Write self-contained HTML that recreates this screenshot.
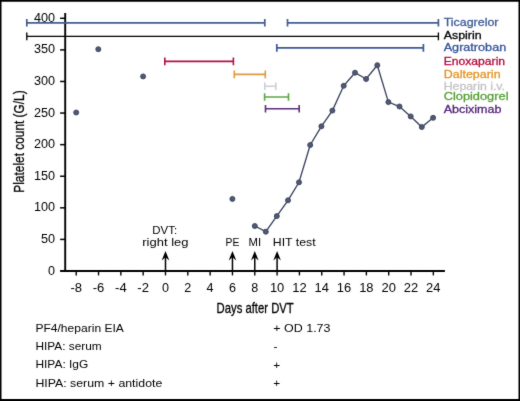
<!DOCTYPE html>
<html><head><meta charset="utf-8"><title>Platelet count</title>
<style>
html,body{margin:0;padding:0;background:#fff;}
body{width:520px;height:401px;overflow:hidden;font-family:"Liberation Sans",sans-serif;}
svg{display:block;font-family:"Liberation Sans",sans-serif;will-change:transform;}
</style></head><body>
<svg width="520" height="401" viewBox="0 0 520 401">
<rect x="0" y="0" width="520" height="401" fill="#fff"/>
<defs><filter id="soft" x="0" y="0" width="100%" height="100%" filterUnits="userSpaceOnUse" primitiveUnits="userSpaceOnUse" color-interpolation-filters="sRGB"><feConvolveMatrix order="3" kernelMatrix="0.015 0.07 0.015 0.07 0.66 0.07 0.015 0.07 0.015" divisor="1" edgeMode="duplicate" preserveAlpha="false"/></filter></defs>
<g filter="url(#soft)">
<path d="M-10 -10H530V411H-10Z M1.5 1.8V398.9H518.5V1.8Z" fill="#000" fill-rule="evenodd"/>
<g stroke="#000" fill="none">
<path d="M65.2 13.1V271.95" stroke-width="1.9"/><path d="M60.1 271.0H444.9" stroke-width="1.9"/>
<path d="M60.1 239.41H65.2" stroke-width="1.5"/>
<path d="M60.1 207.82H65.2" stroke-width="1.5"/>
<path d="M60.1 176.24H65.2" stroke-width="1.5"/>
<path d="M60.1 144.65H65.2" stroke-width="1.5"/>
<path d="M60.1 113.06H65.2" stroke-width="1.5"/>
<path d="M60.1 81.47H65.2" stroke-width="1.5"/>
<path d="M60.1 49.89H65.2" stroke-width="1.5"/>
<path d="M60.1 18.30H65.2" stroke-width="1.5"/>
<path d="M76.22 271.0V275.4" stroke-width="1.4"/>
<path d="M98.54 271.0V275.4" stroke-width="1.4"/>
<path d="M120.86 271.0V275.4" stroke-width="1.4"/>
<path d="M143.18 271.0V275.4" stroke-width="1.4"/>
<path d="M165.50 271.0V275.4" stroke-width="1.4"/>
<path d="M187.82 271.0V275.4" stroke-width="1.4"/>
<path d="M210.14 271.0V275.4" stroke-width="1.4"/>
<path d="M232.46 271.0V275.4" stroke-width="1.4"/>
<path d="M254.78 271.0V275.4" stroke-width="1.4"/>
<path d="M277.10 271.0V275.4" stroke-width="1.4"/>
<path d="M299.42 271.0V275.4" stroke-width="1.4"/>
<path d="M321.74 271.0V275.4" stroke-width="1.4"/>
<path d="M344.06 271.0V275.4" stroke-width="1.4"/>
<path d="M366.38 271.0V275.4" stroke-width="1.4"/>
<path d="M388.70 271.0V275.4" stroke-width="1.4"/>
<path d="M411.02 271.0V275.4" stroke-width="1.4"/>
<path d="M433.34 271.0V275.4" stroke-width="1.4"/>
</g>
<g font-size="12.3" fill="#000" text-anchor="end">
<text x="55" y="274.50" textLength="7.0" lengthAdjust="spacingAndGlyphs">0</text>
<text x="55" y="242.91" textLength="14.1" lengthAdjust="spacingAndGlyphs">50</text>
<text x="55" y="211.32" textLength="21.1" lengthAdjust="spacingAndGlyphs">100</text>
<text x="55" y="179.74" textLength="21.1" lengthAdjust="spacingAndGlyphs">150</text>
<text x="55" y="148.15" textLength="21.1" lengthAdjust="spacingAndGlyphs">200</text>
<text x="55" y="116.56" textLength="21.1" lengthAdjust="spacingAndGlyphs">250</text>
<text x="55" y="84.97" textLength="21.1" lengthAdjust="spacingAndGlyphs">300</text>
<text x="55" y="53.39" textLength="21.1" lengthAdjust="spacingAndGlyphs">350</text>
<text x="55" y="21.80" textLength="21.1" lengthAdjust="spacingAndGlyphs">400</text>
</g>
<g font-size="12.3" fill="#000" text-anchor="middle">
<text x="76.22" y="291.8" textLength="11.6" lengthAdjust="spacingAndGlyphs">-8</text>
<text x="98.54" y="291.8" textLength="11.6" lengthAdjust="spacingAndGlyphs">-6</text>
<text x="120.86" y="291.8" textLength="11.6" lengthAdjust="spacingAndGlyphs">-4</text>
<text x="143.18" y="291.8" textLength="11.6" lengthAdjust="spacingAndGlyphs">-2</text>
<text x="165.50" y="291.8" textLength="7.0" lengthAdjust="spacingAndGlyphs">0</text>
<text x="187.82" y="291.8" textLength="7.0" lengthAdjust="spacingAndGlyphs">2</text>
<text x="210.14" y="291.8" textLength="7.0" lengthAdjust="spacingAndGlyphs">4</text>
<text x="232.46" y="291.8" textLength="7.0" lengthAdjust="spacingAndGlyphs">6</text>
<text x="254.78" y="291.8" textLength="7.0" lengthAdjust="spacingAndGlyphs">8</text>
<text x="277.10" y="291.8" textLength="14.4" lengthAdjust="spacingAndGlyphs">10</text>
<text x="299.42" y="291.8" textLength="14.4" lengthAdjust="spacingAndGlyphs">12</text>
<text x="321.74" y="291.8" textLength="14.4" lengthAdjust="spacingAndGlyphs">14</text>
<text x="344.06" y="291.8" textLength="14.4" lengthAdjust="spacingAndGlyphs">16</text>
<text x="366.38" y="291.8" textLength="14.4" lengthAdjust="spacingAndGlyphs">18</text>
<text x="388.70" y="291.8" textLength="14.4" lengthAdjust="spacingAndGlyphs">20</text>
<text x="411.02" y="291.8" textLength="14.4" lengthAdjust="spacingAndGlyphs">22</text>
<text x="433.34" y="291.8" textLength="14.4" lengthAdjust="spacingAndGlyphs">24</text>
</g>
<text transform="translate(23.6 192.7) rotate(-90)" font-size="14" stroke="#000" stroke-width="0.3" textLength="102.4" lengthAdjust="spacingAndGlyphs">Platelet count (G/L)</text>
<text x="216.6" y="313.2" font-size="14.2" stroke="#000" stroke-width="0.3" textLength="77.1" lengthAdjust="spacingAndGlyphs">Days after DVT</text>
<path d="M26.8 22.8H264.8M26.8 19.0V26.6M264.8 19.0V26.6" stroke="#435c92" stroke-width="1.7" fill="none"/>
<path d="M287.5 22.8H438.4M287.5 19.0V26.6M438.4 19.0V26.6" stroke="#435c92" stroke-width="1.7" fill="none"/>
<path d="M26.8 36.35H438.4M26.8 32.550000000000004V40.15M438.4 32.550000000000004V40.15" stroke="#000" stroke-width="1.35" fill="none"/>
<path d="M276.8 47.9H423.4M276.8 44.1V51.699999999999996M423.4 44.1V51.699999999999996" stroke="#3b5898" stroke-width="1.7" fill="none"/>
<path d="M164.8 61.4H233.4M164.8 57.6V65.2M233.4 57.6V65.2" stroke="#b01040" stroke-width="1.6" fill="none"/>
<path d="M234.3 74.4H265.3M234.3 70.60000000000001V78.2M265.3 70.60000000000001V78.2" stroke="#dd9a3c" stroke-width="1.6" fill="none"/>
<path d="M264.8 86.2H275.8M264.8 82.4V90.0M275.8 82.4V90.0" stroke="#cdcdd6" stroke-width="1.6" fill="none"/>
<path d="M264.6 97.0H288.5M264.6 93.2V100.8M288.5 93.2V100.8" stroke="#5ea544" stroke-width="1.6" fill="none"/>
<path d="M265.5 108.7H299.2M265.5 104.9V112.5M299.2 104.9V112.5" stroke="#5b2e7a" stroke-width="1.6" fill="none"/>
<text x="443.7" y="26" font-size="11.6" fill="#3c5994" stroke="#3c5994" stroke-width="0.3" textLength="54.8" lengthAdjust="spacingAndGlyphs">Ticagrelor</text>
<text x="443.7" y="39" font-size="11.6" fill="#000" stroke="#000" stroke-width="0.3" textLength="38.0" lengthAdjust="spacingAndGlyphs">Aspirin</text>
<text x="443.7" y="51" font-size="11.6" fill="#34539a" stroke="#34539a" stroke-width="0.3" textLength="62.5" lengthAdjust="spacingAndGlyphs">Agratroban</text>
<text x="443.7" y="65" font-size="11.6" fill="#b4083c" stroke="#b4083c" stroke-width="0.3" textLength="61.4" lengthAdjust="spacingAndGlyphs">Enoxaparin</text>
<text x="443.7" y="78" font-size="11.6" fill="#e39424" stroke="#e39424" stroke-width="0.3" textLength="56.9" lengthAdjust="spacingAndGlyphs">Dalteparin</text>
<text x="443.7" y="90" font-size="11.6" fill="#c4c4c8" stroke="#c4c4c8" stroke-width="0.3" textLength="61.3" lengthAdjust="spacingAndGlyphs">Heparin i.v.</text>
<text x="443.7" y="100" font-size="11.6" fill="#56a036" stroke="#56a036" stroke-width="0.3" textLength="64.8" lengthAdjust="spacingAndGlyphs">Clopidogrel</text>
<text x="443.7" y="113" font-size="11.6" fill="#532478" stroke="#532478" stroke-width="0.3" textLength="57.8" lengthAdjust="spacingAndGlyphs">Abciximab</text>
<polyline points="254.8,226.0 265.8,231.7 276.8,216.1 288.0,200.3 299.0,182.3 310.2,145.0 321.4,126.3 332.4,110.6 343.7,85.8 355,72.7 366.1,79.0 377.3,65.2 388.4,102.1 399.5,106.5 410.7,116.4 421.8,127.0 433.1,117.8" fill="none" stroke="#3a435e" stroke-width="1.35"/>
<g fill="#505972" stroke="#3a435e" stroke-width="0.9">
<circle cx="254.8" cy="226.0" r="2.5"/>
<circle cx="265.8" cy="231.7" r="2.5"/>
<circle cx="276.8" cy="216.1" r="2.5"/>
<circle cx="288.0" cy="200.3" r="2.5"/>
<circle cx="299.0" cy="182.3" r="2.5"/>
<circle cx="310.2" cy="145.0" r="2.5"/>
<circle cx="321.4" cy="126.3" r="2.5"/>
<circle cx="332.4" cy="110.6" r="2.5"/>
<circle cx="343.7" cy="85.8" r="2.5"/>
<circle cx="355" cy="72.7" r="2.5"/>
<circle cx="366.1" cy="79.0" r="2.5"/>
<circle cx="377.3" cy="65.2" r="2.5"/>
<circle cx="388.4" cy="102.1" r="2.5"/>
<circle cx="399.5" cy="106.5" r="2.5"/>
<circle cx="410.7" cy="116.4" r="2.5"/>
<circle cx="421.8" cy="127.0" r="2.5"/>
<circle cx="433.1" cy="117.8" r="2.5"/>
<circle cx="76.2" cy="112.5" r="2.5"/>
<circle cx="98.3" cy="49.2" r="2.5"/>
<circle cx="143.1" cy="76.4" r="2.5"/>
<circle cx="232.4" cy="198.9" r="2.5"/>
</g>
<path d="M165.50 270V256" stroke="#000" stroke-width="1.5"/><path d="M165.50 250.9L169.30 260.5L165.50 257.3L161.70 260.5Z" fill="#000"/>
<path d="M232.46 270V256" stroke="#000" stroke-width="1.5"/><path d="M232.46 250.9L236.26 260.5L232.46 257.3L228.66 260.5Z" fill="#000"/>
<path d="M254.78 270V256" stroke="#000" stroke-width="1.5"/><path d="M254.78 250.9L258.58 260.5L254.78 257.3L250.98 260.5Z" fill="#000"/>
<path d="M277.10 270V256" stroke="#000" stroke-width="1.5"/><path d="M277.10 250.9L280.90 260.5L277.10 257.3L273.30 260.5Z" fill="#000"/>
<g font-size="11.6" fill="#000">
<text x="152.3" y="233.8" textLength="24.8" lengthAdjust="spacingAndGlyphs">DVT:</text>
<text x="142.3" y="246.4" textLength="46.2" lengthAdjust="spacingAndGlyphs">right leg</text>
<text x="225.5" y="246.2" textLength="13.8" lengthAdjust="spacingAndGlyphs">PE</text>
<text x="248.5" y="246.2" textLength="12.6" lengthAdjust="spacingAndGlyphs">MI</text>
<text x="272.8" y="246.2" textLength="42.8" lengthAdjust="spacingAndGlyphs">HIT test</text>
</g>
<g font-size="11.8" fill="#000">
<text x="35.4" y="332.4" textLength="88.5" lengthAdjust="spacingAndGlyphs">PF4/heparin EIA</text>
<text x="35.4" y="350.4" textLength="66.3" lengthAdjust="spacingAndGlyphs">HIPA: serum</text>
<text x="35.4" y="368.4" textLength="52.9" lengthAdjust="spacingAndGlyphs">HIPA: IgG</text>
<text x="35.4" y="386.5" textLength="126.9" lengthAdjust="spacingAndGlyphs">HIPA: serum + antidote</text>
<text x="273.3" y="332.4" textLength="57.2" lengthAdjust="spacingAndGlyphs">+ OD 1.73</text>
<text x="273.5" y="350.4">-</text>
<text x="273.3" y="368.6">+</text>
<text x="273.3" y="386.6">+</text>
</g>
</g>
</svg></body></html>
